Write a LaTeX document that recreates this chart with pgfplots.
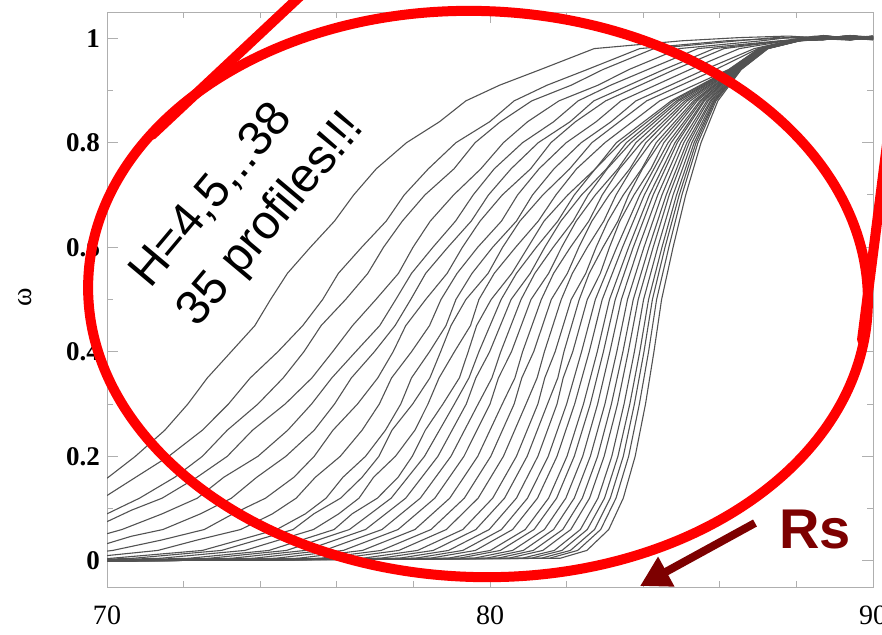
\documentclass[border=0pt]{standalone}
\usepackage{fontspec}
\setmainfont{Liberation Serif}
\newfontfamily\notefont{Liberation Sans}
\usepackage{pgfplots}
\pgfplotsset{compat=1.18}
\usetikzlibrary{arrows.meta}
\definecolor{rsred}{RGB}{125,0,0}
\definecolor{framegray}{RGB}{175,175,175}

\begin{document}
\begin{tikzpicture}
\path[use as bounding box] (0,0) rectangle (441pt,-317pt);
\clip (0,0) rectangle (441pt,-317pt);

\begin{axis}[
  at={(53.5pt,-293.5pt)}, anchor=south west,
  scale only axis, width=383pt, height=287.5pt,
  xmin=70, xmax=90, ymin=-0.05, ymax=1.05,
  xtick={70,80,90}, minor xtick={72,74,76,78,82,84,86,88},
  ytick={0,0.2,0.4,0.6,0.8,1}, minor ytick={0.1,0.3,0.5,0.7,0.9},
  axis line style={framegray, line width=0.5pt},
  every tick/.style={framegray, line width=0.5pt},
  major tick length=5.5pt, minor tick length=3pt,
  /pgf/number format/assume math mode=true,
  yticklabel style={font=\fontsize{13.5}{16}\selectfont\bfseries},
  xticklabel style={font=\fontsize{14}{16}\selectfont, yshift=-6pt},
  ylabel={ω},
  ylabel style={at={(axis description cs:-0.107,0.504)}, anchor=center,
    font=\fontsize{14}{16}\selectfont},
  prof/.style={black!68, line width=0.55pt, line join=round},
]
% H = 4
\addplot[prof] coordinates {(70,0.158) (70.74,0.2) (71.51,0.25) (72.11,0.3) (72.62,0.35) (73.24,0.4) (73.86,0.45) (74.27,0.5) (74.71,0.55) (75.31,0.6) (75.94,0.65) (76.44,0.7) (77.03,0.75) (77.82,0.8) (78.68,0.84) (79.37,0.88) (80.25,0.91) (81.32,0.94) (82.72,0.98) (85.02,0.995) (86.5,1.001) (87.8,1.004) (89,0.998) (90,1.002)};
\addplot[prof] coordinates {(70,0.125) (70.75,0.16) (71.61,0.2) (72.49,0.25) (73.17,0.3) (73.74,0.35) (74.46,0.4) (75.11,0.45) (75.63,0.5) (76.04,0.55) (76.65,0.6) (77.29,0.65) (77.76,0.7) (78.39,0.75) (79.11,0.8) (79.99,0.84) (80.63,0.88) (81.49,0.91) (82.54,0.94) (83.91,0.98) (86.17,0.995) (87.4,0.999) (88.6,1.003) (89.4,0.997) (90,1.001)};
\addplot[prof] coordinates {(70,0.09) (70.85,0.12) (71.77,0.16) (72.49,0.2) (73.14,0.25) (73.94,0.3) (74.60,0.35) (75.14,0.4) (75.59,0.45) (76.23,0.5) (76.81,0.55) (77.22,0.6) (77.71,0.65) (78.30,0.7) (79.06,0.75) (79.61,0.8) (80.27,0.84) (81.09,0.88) (82.12,0.91) (82.95,0.94) (84.28,0.98) (86.48,0.995) (87.6,1.002) (88.7,0.997) (89.4,1.004) (90,0.999)};
\addplot[prof] coordinates {(70,0.075) (70.64,0.097) (71.44,0.12) (72.35,0.16) (73.14,0.2) (73.80,0.25) (74.65,0.3) (75.35,0.35) (75.89,0.4) (76.41,0.45) (77.02,0.5) (77.61,0.55) (77.99,0.6) (78.44,0.65) (79.05,0.7) (79.76,0.75) (80.35,0.8) (80.98,0.84) (81.80,0.88) (82.82,0.91) (83.63,0.94) (84.94,0.98) (87.10,0.995) (88.0,1.003) (88.8,0.999) (89.5,1.005) (90,0.998)};
\addplot[prof] coordinates {(70,0.052) (70.39,0.06) (71.44,0.09) (72.36,0.12) (73.05,0.16) (73.94,0.2) (74.72,0.25) (75.34,0.3) (75.87,0.35) (76.49,0.4) (77.12,0.45) (77.54,0.5) (77.95,0.55) (78.51,0.6) (79.10,0.65) (79.56,0.7) (80.11,0.75) (80.85,0.8) (81.66,0.84) (82.30,0.88) (83.15,0.91) (84.12,0.94) (85.43,0.98) (87.58,0.995) (88.4,0.998) (89.2,1.003) (90,1.0)};
\addplot[prof] coordinates {(70,0.033) (70.63,0.047) (71.46,0.06) (72.44,0.09) (73.25,0.12) (73.91,0.16) (74.67,0.2) (75.41,0.25) (75.94,0.3) (76.38,0.35) (76.98,0.4) (77.52,0.45) (77.93,0.5) (78.32,0.55) (78.90,0.6) (79.51,0.65) (79.96,0.7) (80.55,0.75) (81.26,0.8) (82.09,0.84) (82.71,0.88) (84.54,0.94) (85.85,0.98) (87.65,0.995) (88.5,1.004) (89.3,0.999) (90,1.003)};
\addplot[prof] coordinates {(70,0.0187) (70.15,0.02) (71.43,0.04) (72.54,0.06) (73.29,0.09) (74.14,0.12) (74.88,0.16) (75.41,0.2) (75.90,0.25) (76.54,0.3) (77.07,0.35) (77.47,0.4) (77.80,0.45) (78.32,0.5) (78.88,0.55) (79.28,0.6) (79.74,0.65) (80.32,0.7) (81.06,0.75) (81.59,0.8) (82.23,0.84) (83.02,0.88) (84.82,0.94) (86.11,0.98) (87.70,0.995) (88.6,0.999) (89.4,1.005) (90,0.998)};
\addplot[prof] coordinates {(70,0.0101) (71.33,0.02) (72.36,0.04) (73.49,0.06) (74.32,0.09) (74.94,0.12) (75.44,0.16) (76.09,0.2) (76.66,0.25) (77.11,0.3) (77.43,0.35) (77.95,0.4) (78.42,0.45) (78.72,0.5) (79.14,0.55) (79.68,0.6) (80.30,0.65) (80.72,0.7) (81.28,0.75) (81.99,0.8) (82.77,0.84) (83.42,0.88) (85.22,0.94) (86.51,0.98) (87.75,0.995) (88.7,1.002) (89.4,0.997) (90,1.001)};
\addplot[prof] coordinates {(70,0.0047) (70.11,0.005) (72.49,0.02) (74.43,0.06) (75.18,0.09) (75.72,0.12) (76.16,0.16) (76.75,0.2) (77.27,0.25) (77.67,0.3) (77.95,0.35) (78.42,0.4) (78.85,0.45) (79.11,0.5) (79.53,0.55) (80.07,0.6) (80.69,0.65) (81.11,0.7) (81.67,0.75) (82.38,0.8) (83.16,0.84) (83.81,0.88) (85.61,0.94) (86.90,0.98) (87.80,0.995) (88.7,1.003) (89.4,1.0) (90,0.997)};
\addplot[prof] coordinates {(70,0.0033) (70.69,0.005) (72.99,0.02) (74.86,0.06) (75.40,0.09) (76.10,0.12) (76.66,0.16) (77.10,0.2) (77.44,0.25) (77.98,0.3) (78.43,0.35) (78.71,0.4) (78.98,0.45) (79.37,0.5) (79.95,0.55) (80.33,0.6) (80.78,0.65) (81.38,0.7) (82.08,0.75) (82.66,0.8) (84.09,0.88) (85.89,0.94) (87.00,0.98) (87.85,0.995) (88.7,0.998) (89.4,1.004) (90,1.0)};
\addplot[prof] coordinates {(70,0.0021) (71.40,0.005) (73.60,0.02) (75.39,0.06) (76.05,0.09) (76.58,0.12) (76.96,0.16) (77.53,0.2) (78.04,0.25) (78.38,0.3) (78.67,0.35) (79.07,0.4) (79.49,0.45) (79.71,0.5) (80.11,0.55) (80.67,0.6) (81.26,0.65) (81.72,0.7) (82.26,0.75) (83.00,0.8) (84.43,0.88) (86.23,0.94) (87.02,0.98) (87.86,0.995) (88.7,1.005) (89.4,0.999) (90,1.002)};
\addplot[prof] coordinates {(70,0.001) (72.14,0.005) (74.23,0.02) (75.93,0.06) (76.40,0.09) (77.06,0.12) (77.60,0.16) (77.97,0.2) (78.31,0.25) (78.77,0.3) (79.20,0.35) (79.43,0.4) (79.65,0.45) (80.03,0.5) (80.57,0.55) (80.99,0.6) (81.41,0.65) (82.03,0.7) (82.75,0.75) (83.30,0.8) (84.73,0.88) (86.25,0.94) (87.03,0.98) (87.87,0.995) (88.7,0.997) (89.4,1.002) (90,0.999)};
\addplot[prof] coordinates {(70,0) (72.67,0.005) (74.69,0.02) (76.33,0.06) (77.42,0.12) (78.29,0.2) (79.07,0.3) (79.45,0.35) (79.71,0.4) (80.29,0.5) (80.69,0.55) (81.21,0.6) (81.77,0.65) (82.20,0.7) (82.75,0.75) (83.42,0.8) (84.79,0.88) (86.27,0.94) (87.04,0.98) (87.88,0.995) (88.7,1.003) (89.4,0.998) (90,1.004)};
\addplot[prof] coordinates {(70,0) (73.25,0.005) (75.18,0.02) (76.75,0.06) (77.80,0.12) (78.64,0.2) (79.38,0.3) (79.63,0.35) (79.99,0.4) (80.55,0.5) (81.05,0.55) (81.43,0.6) (81.85,0.65) (82.39,0.7) (83.04,0.75) (83.56,0.8) (84.87,0.88) (86.28,0.94) (87.05,0.98) (87.89,0.995) (88.7,1.0) (89.4,1.005) (90,0.998)};
\addplot[prof] coordinates {(70,0) (73.82,0.005) (75.67,0.02) (77.18,0.06) (78.18,0.12) (78.98,0.2) (79.69,0.3) (80.05,0.35) (80.28,0.4) (80.81,0.5) (81.17,0.55) (81.65,0.6) (82.17,0.65) (82.56,0.7) (83.06,0.75) (83.68,0.8) (84.93,0.88) (86.30,0.94) (87.06,0.98) (87.90,0.995) (88.7,0.998) (89.4,1.001) (90,1.003)};
\addplot[prof] coordinates {(70,0) (74.40,0.005) (76.17,0.02) (77.60,0.06) (78.56,0.12) (79.32,0.2) (80.00,0.3) (80.22,0.35) (80.56,0.4) (81.07,0.5) (81.53,0.55) (81.87,0.6) (82.25,0.65) (82.75,0.7) (83.34,0.75) (83.81,0.8) (85.01,0.88) (86.31,0.94) (87.07,0.98) (87.91,0.995) (88.7,1.004) (89.4,0.997) (90,1.0)};
\addplot[prof] coordinates {(70,0) (74.99,0.005) (76.67,0.02) (78.04,0.06) (78.95,0.12) (79.68,0.2) (80.32,0.3) (80.65,0.35) (80.85,0.4) (81.34,0.5) (81.66,0.55) (82.10,0.6) (82.58,0.65) (82.93,0.7) (83.38,0.75) (83.95,0.8) (85.09,0.88) (86.33,0.94) (87.08,0.98) (87.92,0.995) (88.7,0.999) (89.4,1.003) (90,0.997)};
\addplot[prof] coordinates {(70,0) (75.57,0.005) (77.16,0.02) (78.46,0.06) (79.33,0.12) (80.02,0.2) (80.63,0.3) (80.83,0.35) (81.14,0.4) (81.60,0.5) (82.02,0.55) (82.32,0.6) (82.66,0.65) (83.11,0.7) (83.65,0.75) (84.07,0.8) (85.15,0.88) (86.34,0.94) (87.09,0.98) (87.93,0.995) (88.7,1.002) (89.4,0.998) (90,1.004)};
\addplot[prof] coordinates {(70,0) (76.09,0.005) (77.62,0.02) (78.86,0.06) (79.69,0.12) (80.35,0.2) (80.94,0.3) (81.23,0.35) (81.42,0.4) (81.86,0.5) (82.15,0.55) (82.54,0.6) (82.97,0.65) (83.29,0.7) (83.70,0.75) (84.20,0.8) (85.23,0.88) (86.35,0.94) (87.10,0.98) (87.94,0.995) (88.7,0.997) (89.4,1.004) (90,1.001)};
\addplot[prof] coordinates {(70,0) (76.67,0.005) (78.11,0.02) (79.29,0.06) (80.07,0.12) (80.69,0.2) (81.25,0.3) (81.43,0.35) (81.70,0.4) (82.12,0.5) (82.50,0.55) (82.77,0.6) (83.08,0.65) (83.48,0.7) (83.96,0.75) (84.34,0.8) (85.31,0.88) (86.37,0.94) (87.11,0.98) (87.95,0.995) (88.7,1.005) (89.4,1.0) (90,0.998)};
\addplot[prof] coordinates {(70,0) (77.14,0.005) (78.52,0.02) (79.63,0.06) (80.38,0.12) (80.97,0.2) (81.50,0.3) (81.77,0.35) (81.93,0.4) (82.33,0.5) (82.59,0.55) (82.95,0.6) (83.34,0.65) (83.62,0.7) (83.98,0.75) (84.44,0.8) (85.36,0.88) (86.38,0.94) (87.12,0.98) (87.96,0.995) (88.7,0.999) (89.4,0.996) (90,1.003)};
\addplot[prof] coordinates {(70,0) (77.62,0.005) (78.92,0.02) (79.98,0.06) (80.69,0.12) (81.25,0.2) (81.75,0.3) (81.91,0.35) (82.16,0.4) (82.54,0.5) (82.88,0.55) (83.12,0.6) (83.39,0.65) (83.76,0.7) (84.20,0.75) (84.54,0.8) (85.41,0.88) (86.40,0.94) (87.13,0.98) (87.97,0.995) (88.7,1.003) (89.4,1.002) (90,0.999)};
\addplot[prof] coordinates {(70,0) (78.04,0.005) (79.29,0.02) (80.30,0.06) (80.98,0.12) (81.52,0.2) (82.00,0.3) (82.39,0.4) (82.75,0.5) (83.31,0.6) (83.91,0.7) (84.65,0.8) (85.48,0.88) (86.41,0.94) (87.14,0.98) (87.98,0.995) (88.7,0.998) (89.4,1.005) (90,1.002)};
\addplot[prof] coordinates {(70,0) (78.43,0.005) (79.62,0.02) (80.59,0.06) (81.24,0.12) (81.75,0.2) (82.21,0.3) (82.59,0.4) (82.93,0.5) (83.46,0.6) (84.03,0.7) (84.73,0.8) (85.52,0.88) (86.42,0.94) (87.15,0.98) (87.99,0.995) (88.7,1.004) (89.4,0.999) (90,0.997)};
\addplot[prof] coordinates {(70,0) (78.89,0.005) (80.01,0.02) (80.92,0.06) (81.53,0.12) (82.01,0.2) (82.44,0.3) (82.80,0.4) (83.12,0.5) (83.62,0.6) (84.16,0.7) (84.83,0.8) (85.57,0.88) (86.44,0.94) (87.16,0.98) (88.00,0.995) (88.7,1.0) (89.4,1.003) (90,1.001)};
\addplot[prof] coordinates {(70,0) (79.19,0.005) (80.27,0.02) (81.15,0.06) (81.74,0.12) (82.20,0.2) (82.62,0.3) (82.96,0.4) (83.27,0.5) (83.74,0.6) (84.26,0.7) (84.89,0.8) (85.60,0.88) (86.45,0.94) (87.17,0.98) (88.01,0.995) (88.7,0.997) (89.4,1.001) (90,1.004)};
\addplot[prof] coordinates {(70,0) (79.57,0.005) (80.59,0.02) (81.42,0.06) (81.98,0.12) (82.42,0.2) (82.81,0.3) (83.13,0.4) (83.43,0.5) (83.88,0.6) (84.38,0.7) (84.98,0.8) (85.66,0.88) (86.46,0.94) (87.18,0.98) (88.02,0.995) (88.7,1.005) (89.4,0.998) (90,1.0)};
\addplot[prof] coordinates {(70,0) (79.89,0.005) (80.87,0.02) (81.66,0.06) (82.20,0.12) (82.62,0.2) (83.00,0.3) (83.31,0.4) (83.59,0.5) (84.02,0.6) (84.49,0.7) (85.06,0.8) (85.70,0.88) (86.48,0.94) (87.19,0.98) (88.03,0.995) (88.7,1.001) (89.4,1.004) (90,0.998)};
\addplot[prof] coordinates {(70,0) (80.19,0.005) (81.13,0.02) (81.90,0.06) (82.41,0.12) (82.81,0.2) (83.17,0.3) (83.47,0.4) (83.74,0.5) (84.15,0.6) (84.60,0.7) (85.14,0.8) (85.75,0.88) (86.49,0.94) (87.20,0.98) (88.04,0.995) (88.7,0.998) (89.4,1.0) (90,1.003)};
\addplot[prof] coordinates {(70,0) (80.48,0.005) (81.38,0.02) (82.11,0.06) (82.60,0.12) (82.98,0.2) (83.33,0.3) (83.61,0.4) (83.87,0.5) (84.26,0.6) (84.68,0.7) (85.20,0.8) (85.78,0.88) (86.50,0.94) (87.21,0.98) (88.05,0.995) (88.7,1.003) (89.4,0.997) (90,1.001)};
\addplot[prof] coordinates {(70,0) (80.83,0.005) (81.68,0.02) (82.36,0.06) (82.82,0.12) (83.18,0.2) (83.50,0.3) (83.77,0.4) (84.01,0.5) (84.38,0.6) (84.78,0.7) (85.27,0.8) (85.82,0.88) (86.52,0.94) (87.22,0.98) (88.06,0.995) (88.7,0.999) (89.4,1.005) (90,0.999)};
\addplot[prof] coordinates {(70,0) (81.07,0.005) (81.88,0.02) (82.54,0.06) (82.99,0.12) (83.34,0.2) (83.65,0.3) (83.91,0.4) (84.14,0.5) (84.49,0.6) (84.87,0.7) (85.33,0.8) (85.85,0.88) (86.53,0.94) (87.23,0.98) (88.07,0.995) (88.7,1.004) (89.4,1.001) (90,0.997)};
\addplot[prof] coordinates {(70,0) (81.33,0.005) (82.10,0.02) (82.73,0.06) (83.14,0.12) (83.48,0.2) (83.77,0.3) (84.02,0.4) (84.24,0.5) (84.57,0.6) (84.94,0.7) (85.38,0.8) (85.87,0.88) (86.54,0.94) (87.24,0.98) (88.08,0.995) (88.7,0.997) (89.4,1.003) (90,1.002)};
\addplot[prof] coordinates {(70,0) (81.55,0.005) (82.29,0.02) (82.89,0.06) (83.29,0.12) (83.62,0.2) (83.90,0.3) (84.14,0.4) (84.35,0.5) (84.67,0.6) (85.01,0.7) (85.43,0.8) (85.90,0.88) (86.55,0.94) (87.25,0.98) (88.09,0.995) (88.7,1.002) (89.4,0.998) (90,1.004)};
% H = 38
\addplot[prof] coordinates {(70,0) (81.83,0.005) (82.53,0.02) (83.10,0.06) (83.48,0.12) (83.79,0.2) (84.06,0.3) (84.28,0.4) (84.48,0.5) (84.78,0.6) (85.11,0.7) (85.51,0.8) (85.95,0.88) (86.56,0.94) (87.26,0.98) (88.10,0.995) (88.7,0.999) (89.4,1.004) (90,1.0)};
\end{axis}

% annotations, in a frame with 1 unit = 0.5pt measured from the top-left corner
\begin{scope}[x=0.5pt, y=-0.5pt]
  \draw[red, line width=5pt, rotate around={-2:(478,294)}]
    (478,294) ellipse [x radius=390, y radius=283];
  \draw[red, line width=5pt, line cap=round] (152,135) -- (312,-15);
  \draw[red, line width=5pt, line cap=round] (862,340) -- (892,105);
  \node[rotate=50, anchor=base west, inner sep=0pt,
        font=\notefont\fontsize{24}{28}\selectfont] at (150,290) {H=4,5,..38};
  \node[rotate=50, anchor=base west, inner sep=0pt,
        font=\notefont\fontsize{24}{28}\selectfont] at (197,329) {35 profiles!!!};
  \draw[rsred, line width=4pt, -{Triangle[length=15pt, width=16pt]}]
    (755,523) -- (640,586);
  \node[anchor=base west, inner sep=0pt, text=rsred,
        font=\notefont\bfseries\fontsize{28}{32}\selectfont] at (779,548) {Rs};
\end{scope}
\end{tikzpicture}
\end{document}
